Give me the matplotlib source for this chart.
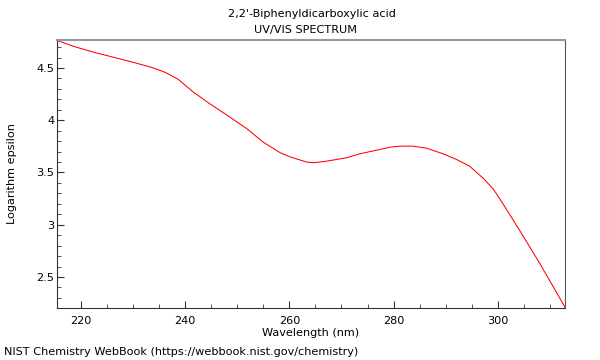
import matplotlib
matplotlib.use("Agg")
import matplotlib.pyplot as plt
from matplotlib.ticker import MultipleLocator, FuncFormatter

wavelength = [215.4, 218.85, 222.7, 225.9, 229.7, 233.6, 236.1, 238.7, 241.5, 244.75,
              248.6, 251.8, 255.0, 258.2, 260.1, 263.3, 264.6, 267.1, 271.0, 273.5,
              277.4, 279.3, 281.2, 283.75, 286.3, 289.5, 292.1, 294.6, 297.2, 299.1,
              301.0, 304.2, 308.1, 312.9]
log_eps = [4.763, 4.703, 4.648, 4.607, 4.559, 4.505, 4.460, 4.390, 4.272, 4.157,
           4.03, 3.92, 3.79, 3.69, 3.65, 3.60, 3.593, 3.608, 3.641, 3.679,
           3.720, 3.742, 3.752, 3.752, 3.733, 3.679, 3.624, 3.560, 3.445, 3.344,
           3.20, 2.945, 2.626, 2.211]

title_lines = ["2,2'-Biphenyldicarboxylic acid", "UV/VIS SPECTRUM"]
xlabel = "Wavelength (nm)"
ylabel = "Logarithm epsilon"
footer = "NIST Chemistry WebBook (https://webbook.nist.gov/chemistry)"

FS = 8.1
fig = plt.figure(figsize=(6, 3.6), dpi=100)
ax = fig.add_axes([57/600, 1-308/360, (565-57)/600, (308-40)/360])
ax.plot(wavelength, log_eps, color="#ff0000", lw=0.75)
ax.set_xlim(215.4, 312.9)
ax.set_ylim(2.203, 4.768)

ax.xaxis.set_major_locator(MultipleLocator(20))
ax.xaxis.set_minor_locator(MultipleLocator(5))
ax.yaxis.set_major_locator(MultipleLocator(0.5))
ax.yaxis.set_minor_locator(MultipleLocator(0.1))
ax.yaxis.set_major_formatter(FuncFormatter(lambda v, p: f"{v:g}"))
ax.tick_params(which="both", direction="in", labelsize=FS, color="#333333")
ax.tick_params(which="major", length=5)
ax.tick_params(which="minor", length=3)
ax.tick_params(axis="x", which="major", pad=6)
ax.tick_params(axis="y", which="major", pad=2)

ax.spines["top"].set_color("#999999")
ax.spines["top"].set_linewidth(1.5)
ax.spines["right"].set_color("#555555")
ax.spines["left"].set_color("#333333")
ax.spines["bottom"].set_color("#333333")

ax.set_xlabel(xlabel, fontsize=FS, labelpad=1)
ax.set_ylabel(ylabel, fontsize=FS, labelpad=14)

fig.text(311.5/600, 1-14/360, title_lines[0], ha="center", va="center", fontsize=FS)
fig.text(306/600, 1-30/360, title_lines[1], ha="center", va="center", fontsize=FS)
fig.text(4/600, 1-352/360, footer, ha="left", va="center", fontsize=FS)

fig.savefig("out.png", dpi=100)
